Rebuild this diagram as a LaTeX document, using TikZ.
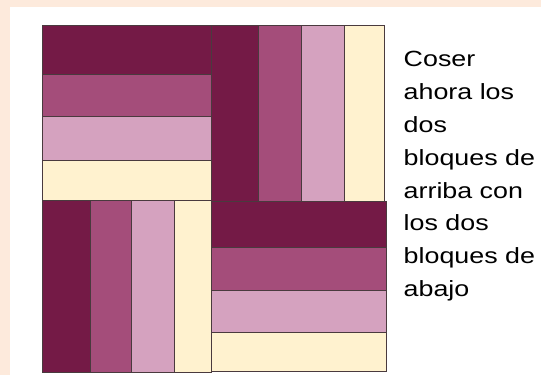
\documentclass[tikz,border=0pt]{standalone}
\usepackage{fontspec}
\setmainfont{Liberation Sans}
\newfontfamily\widesans[FakeStretch=1.22]{Liberation Sans}
\definecolor{peach}{HTML}{FDEADC}
\definecolor{wine}{HTML}{741A46}
\definecolor{mauve}{HTML}{A44D7A}
\definecolor{lilac}{HTML}{D5A2BF}
\definecolor{cream}{HTML}{FFF2CF}
\definecolor{seam}{HTML}{4A3A3E}
\begin{document}
\begin{tikzpicture}[x=1pt,y=-1pt,
  stripe/.style={draw=seam,line width=0.7pt}]
\useasboundingbox (0,0) rectangle (541,375);
\fill[peach] (0,0) rectangle (541,375);
\fill[white] (10,7) rectangle (541,375);
% top-left block: horizontal stripes
\filldraw[stripe,fill=wine]  (42.4,25.8) rectangle (211.5,74);
\filldraw[stripe,fill=mauve] (42.4,74) rectangle (211.5,116.7);
\filldraw[stripe,fill=lilac] (42.4,116.7) rectangle (211.5,160.7);
\filldraw[stripe,fill=cream] (42.4,160.7) rectangle (211.5,200.5);
% top-right block: vertical stripes
\filldraw[stripe,fill=wine]  (211.5,25.8) rectangle (258.6,201);
\filldraw[stripe,fill=mauve] (258.6,25.8) rectangle (301.4,201);
\filldraw[stripe,fill=lilac] (301.4,25.8) rectangle (344.4,201);
\filldraw[stripe,fill=cream] (344.4,25.8) rectangle (384.8,201);
% bottom-left block: vertical stripes
\filldraw[stripe,fill=wine]  (42.4,200.5) rectangle (90,372);
\filldraw[stripe,fill=mauve] (90,200.5) rectangle (131.7,372);
\filldraw[stripe,fill=lilac] (131.7,200.5) rectangle (174.5,372);
\filldraw[stripe,fill=cream] (174.5,200.5) rectangle (211.5,372);
% bottom-right block: horizontal stripes
\filldraw[stripe,fill=wine]  (211.5,201) rectangle (386,247.3);
\filldraw[stripe,fill=mauve] (211.5,247.3) rectangle (386,290);
\filldraw[stripe,fill=lilac] (211.5,290) rectangle (386,332.3);
\filldraw[stripe,fill=cream] (211.5,332.3) rectangle (386,371);
\node[anchor=base west,inner sep=0pt,align=left,font=\widesans\fontsize{22}{32.9}\selectfont] (txt) at (403.5,296.7)
  {Coser\\ahora los\\dos\\bloques de\\arriba con\\los dos\\bloques de\\abajo};
\end{tikzpicture}
\end{document}
